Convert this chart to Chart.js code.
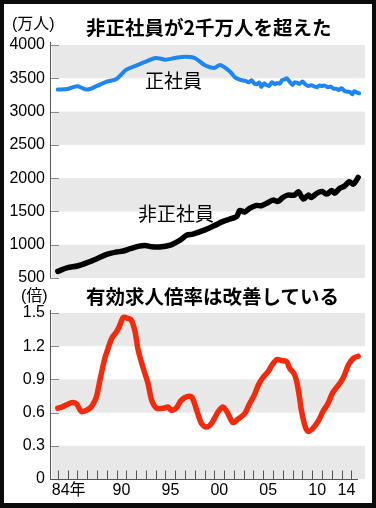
<!DOCTYPE html>
<html lang="ja">
<head>
<meta charset="UTF-8" />
<title>非正社員が2千万人を超えた</title>
<script src="https://cdn.jsdelivr.net/npm/chart.js"></script>
<style>
  html, body { margin: 0; padding: 0; }
  body { width: 376px; height: 508px; background: #0b0b0b; position: relative; overflow: hidden;
         font-family: "Noto Sans CJK JP", sans-serif; }
  #panel { position: absolute; left: 4px; top: 4px; width: 368px; height: 499px; background: #fff; }
  .wrap { position: absolute; left: 0; width: 376px; }
  #topWrap { top: 25px; height: 270px; }
  #botWrap { top: 295px; height: 205px; }
  .txt { position: absolute; white-space: nowrap; line-height: 1; color: #000; z-index: 2; }
  .title { font-weight: 700; font-size: 19.5px; }
  .unit { font-family: "Liberation Sans", "Noto Sans CJK JP", sans-serif; font-size: 16px; }
  .series { font-size: 19px; }
</style>
</head>
<body>
<div id="panel"></div>

<div class="txt unit" style="left:12px; top:16px;">(万人)</div>
<div class="txt title" style="left:86px; top:17px;">非正社員が2千万人を超えた</div>
<div class="txt series" style="left:145px; top:70px;">正社員</div>
<div class="txt series" style="left:138px; top:203px;">非正社員</div>

<div class="txt unit" style="left:21px; top:288px;">(倍)</div>
<div class="txt title" style="left:86px; top:286px;">有効求人倍率は改善している</div>

<div class="wrap" id="topWrap"><canvas id="topChart"></canvas></div>
<div class="wrap" id="botWrap"><canvas id="botChart"></canvas></div>

<script>
  // 正社員（万人）
  const seiYears = [1984, 1985, 1986, 1987, 1988, 1989, 1990, 1991, 1992, 1993, 1994, 1995, 1996, 1997, 1998,
    1999, 2000, 2000.6, 2001.6, 2002.1, 2002.4, 2002.8, 2003.2, 2003.5, 2003.8, 2004.1, 2004.3, 2004.6, 2004.8,
    2005.1, 2005.3, 2005.6, 2005.9, 2006.2, 2006.4, 2006.7, 2006.9, 2007.2, 2007.4, 2007.7, 2008.0, 2008.2,
    2008.5, 2008.7, 2009.0, 2009.3, 2009.6, 2009.9, 2010.2, 2010.5, 2010.7, 2011.0, 2011.3, 2011.6, 2011.9,
    2012.2, 2012.5, 2012.7, 2013.0, 2013.3, 2013.6, 2013.9, 2014.1, 2014.3, 2014.6, 2014.8];
  const seiValues = [3330, 3340, 3380, 3330, 3385, 3450, 3490, 3630, 3690, 3750, 3805, 3780, 3805, 3825, 3805,
    3700, 3655, 3700, 3600, 3515, 3490, 3470, 3460, 3440, 3470, 3420, 3410, 3435, 3370,
    3425, 3400, 3385, 3440, 3410, 3430, 3420, 3470, 3485, 3500, 3450, 3400, 3440,
    3430, 3415, 3450, 3410, 3385, 3395, 3380, 3365, 3390, 3385, 3390, 3365, 3375,
    3345, 3340, 3325, 3350, 3310, 3300, 3290, 3260, 3305, 3285, 3275];

  // 非正社員（万人）
  const hiYears = [1984, 1985, 1986, 1987, 1988, 1989, 1990, 1990.7, 1991.4, 1992.2, 1992.9, 1993.6, 1994.4,
    1995.5, 1996.5, 1997.2, 1997.8, 1998.9, 1999.9, 2000.9, 2001.8, 2002.3, 2002.6, 2003.1, 2003.6, 2004.3,
    2004.8, 2005.5, 2006.0, 2006.5, 2007.0, 2007.5, 2008.2, 2008.6, 2009.1, 2009.6, 2009.9, 2010.5, 2011.0,
    2011.5, 2012.0, 2012.3, 2012.8, 2013.3, 2013.8, 2014.2, 2014.7];
  const hiValues = [600, 655, 680, 730, 790, 855, 890, 905, 940, 975, 990, 970, 965,
    995, 1070, 1145, 1160, 1215, 1280, 1350, 1395, 1425, 1515, 1490, 1545, 1590,
    1585, 1635, 1670, 1650, 1710, 1745, 1745, 1795, 1685, 1745, 1710, 1775, 1800,
    1760, 1815, 1775, 1845, 1880, 1945, 1910, 2010];

  // 有効求人倍率（倍）
  const ratioYears = [1984, 1984.4, 1984.9, 1985.4, 1985.9, 1986.4, 1986.9, 1987.4, 1987.8, 1988.0, 1988.3,
    1988.8, 1989.1, 1989.5, 1990.0, 1990.3, 1990.7, 1991.2, 1991.5, 1991.9, 1992.2, 1992.7, 1993.2, 1993.6,
    1994.1, 1994.8, 1995.3, 1995.6, 1996.1, 1996.6, 1997.2, 1997.7, 1998.2, 1998.7, 1999.2, 1999.7, 2000.4,
    2000.9, 2001.4, 2001.9, 2002.4, 2003.1, 2003.6, 2004.1, 2004.5, 2005.0, 2005.5, 2005.9, 2006.4, 2006.9,
    2007.4, 2007.7, 2008.1, 2008.4, 2008.7, 2008.9, 2009.3, 2009.6, 2010.1, 2010.6, 2011.1, 2011.6, 2012.1,
    2012.7, 2013.2, 2013.7, 2014.2, 2014.7];
  const ratioValues = [0.64, 0.65, 0.67, 0.69, 0.68, 0.61, 0.62, 0.65, 0.71, 0.76, 0.89,
    1.09, 1.17, 1.27, 1.33, 1.38, 1.46, 1.45, 1.44, 1.33, 1.17, 1.01, 0.87, 0.71,
    0.64, 0.64, 0.65, 0.62, 0.64, 0.71, 0.745, 0.74, 0.62, 0.50, 0.47, 0.50, 0.61,
    0.65, 0.59, 0.51, 0.54, 0.59, 0.68, 0.76, 0.85, 0.92, 0.97, 1.03, 1.08, 1.07,
    1.06, 1.00, 0.96, 0.89, 0.74, 0.62, 0.47, 0.43, 0.46, 0.52, 0.61, 0.68, 0.78,
    0.85, 0.92, 1.03, 1.09, 1.11];

  const topTicks = [500, 1000, 1500, 2000, 2500, 3000, 3500, 4000];
  const topTickLabels = ['500', '1000', '1500', '2000', '2500', '3000', '3500', '4000'];
  const botTicks = [0, 0.3, 0.6, 0.9, 1.2, 1.5];
  const botTickLabels = ['0', '0.3', '0.6', '0.9', '1.2', '1.5'];
  const yearTickYears = [1984, 1990, 1995, 2000, 2005, 2010, 2014];
  const yearTickLabels = ['84年', '90', '95', '00', '05', '10', '14'];
  const firstYear = 1984, lastYear = 2014;

  const FONT = '"Liberation Sans", "Noto Sans CJK JP", sans-serif';
  Chart.defaults.font.family = FONT;
  Chart.defaults.font.size = 16;
  Chart.defaults.color = '#000';

  function pts(xs, ys) { return xs.map((x, i) => ({ x, y: ys[i] })); }

  // gray bands, short inner ticks and the y axis line
  const bandPlugin = {
    id: 'bands',
    beforeDatasetsDraw(chart) {
      const { ctx, chartArea: a, scales: { y } } = chart;
      const vals = y.ticks.map(t => t.value).sort((p, q) => q - p);
      ctx.save();
      ctx.fillStyle = '#e8e8e8';
      for (let i = 0; i + 1 < vals.length; i += 2) {
        const y1 = y.getPixelForValue(vals[i]), y2 = y.getPixelForValue(vals[i + 1]);
        ctx.fillRect(a.left + 2, y1, a.right - a.left - 2, y2 - y1);
      }
      ctx.strokeStyle = '#8a8a8a';
      ctx.lineWidth = 1;
      vals.forEach(v => {
        const py = Math.round(y.getPixelForValue(v)) + 0.5;
        ctx.beginPath(); ctx.moveTo(a.left, py); ctx.lineTo(a.left + 9, py); ctx.stroke();
      });
      ctx.strokeStyle = '#555';
      ctx.beginPath(); ctx.moveTo(a.left + 0.5, a.top - 3); ctx.lineTo(a.left + 0.5, a.bottom); ctx.stroke();
      ctx.restore();
    }
  };

  // year axis for the lower chart
  const yearPlugin = {
    id: 'years',
    beforeDatasetsDraw(chart) {
      const { ctx, chartArea: a, scales: { x } } = chart;
      ctx.save();
      ctx.strokeStyle = '#555';
      ctx.lineWidth = 1;
      const by = Math.round(a.bottom) + 0.5;
      ctx.beginPath(); ctx.moveTo(a.left, by); ctx.lineTo(a.right - 7, by); ctx.stroke();
      for (let yr = firstYear; yr <= lastYear; yr++) {
        const px = Math.round(x.getPixelForValue(yr)) + 0.5;
        ctx.beginPath(); ctx.moveTo(px, by); ctx.lineTo(px, by - 9); ctx.stroke();
      }
      ctx.fillStyle = '#000';
      ctx.font = '16px ' + FONT;
      ctx.textBaseline = 'middle';
      yearTickYears.forEach((yr, i) => {
        const px = x.getPixelForValue(yr);
        if (i === 0) { ctx.textAlign = 'left'; ctx.fillText(yearTickLabels[i], px - 6, a.bottom + 12); }
        else if (i === yearTickYears.length - 1) { ctx.textAlign = 'right'; ctx.fillText(yearTickLabels[i], px + 4, a.bottom + 12); }
        else { ctx.textAlign = 'center'; ctx.fillText(yearTickLabels[i], px + 5, a.bottom + 12); }
      });
      ctx.restore();
    }
  };

  function lineSet(data, color, width) {
    return {
      data, borderColor: color, borderWidth: width, pointRadius: 0, tension: 0.3,
      borderCapStyle: 'round', borderJoinStyle: 'round', fill: false
    };
  }

  function baseOptions(ticks, labels, min, max, padding) {
    return {
      responsive: true,
      maintainAspectRatio: false,
      animation: false,
      layout: { padding },
      plugins: { legend: { display: false }, tooltip: { enabled: false } },
      scales: {
        x: { type: 'linear', min: 1983.2, max: 2015.4, display: false },
        y: {
          min, max,
          afterBuildTicks: s => { s.ticks = ticks.map(v => ({ value: v })); },
          afterFit: s => { s.width = 50; },
          ticks: { padding: 5, callback: (v, i) => labels[i] },
          grid: { display: false, drawTicks: false },
          border: { display: false }
        }
      }
    };
  }

  new Chart(document.getElementById('topChart'), {
    type: 'line',
    data: {
      datasets: [
        lineSet(pts(seiYears, seiValues), '#1e86f0', 4),
        lineSet(pts(hiYears, hiValues), '#000', 5.5)
      ]
    },
    options: baseOptions(topTicks, topTickLabels, 500, 4000, { left: 0, right: 11, top: 20, bottom: 17 }),
    plugins: [bandPlugin]
  });

  new Chart(document.getElementById('botChart'), {
    type: 'line',
    data: {
      datasets: [lineSet(pts(ratioYears, ratioValues), '#f42a0c', 5.5)]
    },
    options: baseOptions(botTicks, botTickLabels, 0, 1.5, { left: 0, right: 11, top: 18, bottom: 21 }),
    plugins: [bandPlugin, yearPlugin]
  });
</script>
</body>
</html>
